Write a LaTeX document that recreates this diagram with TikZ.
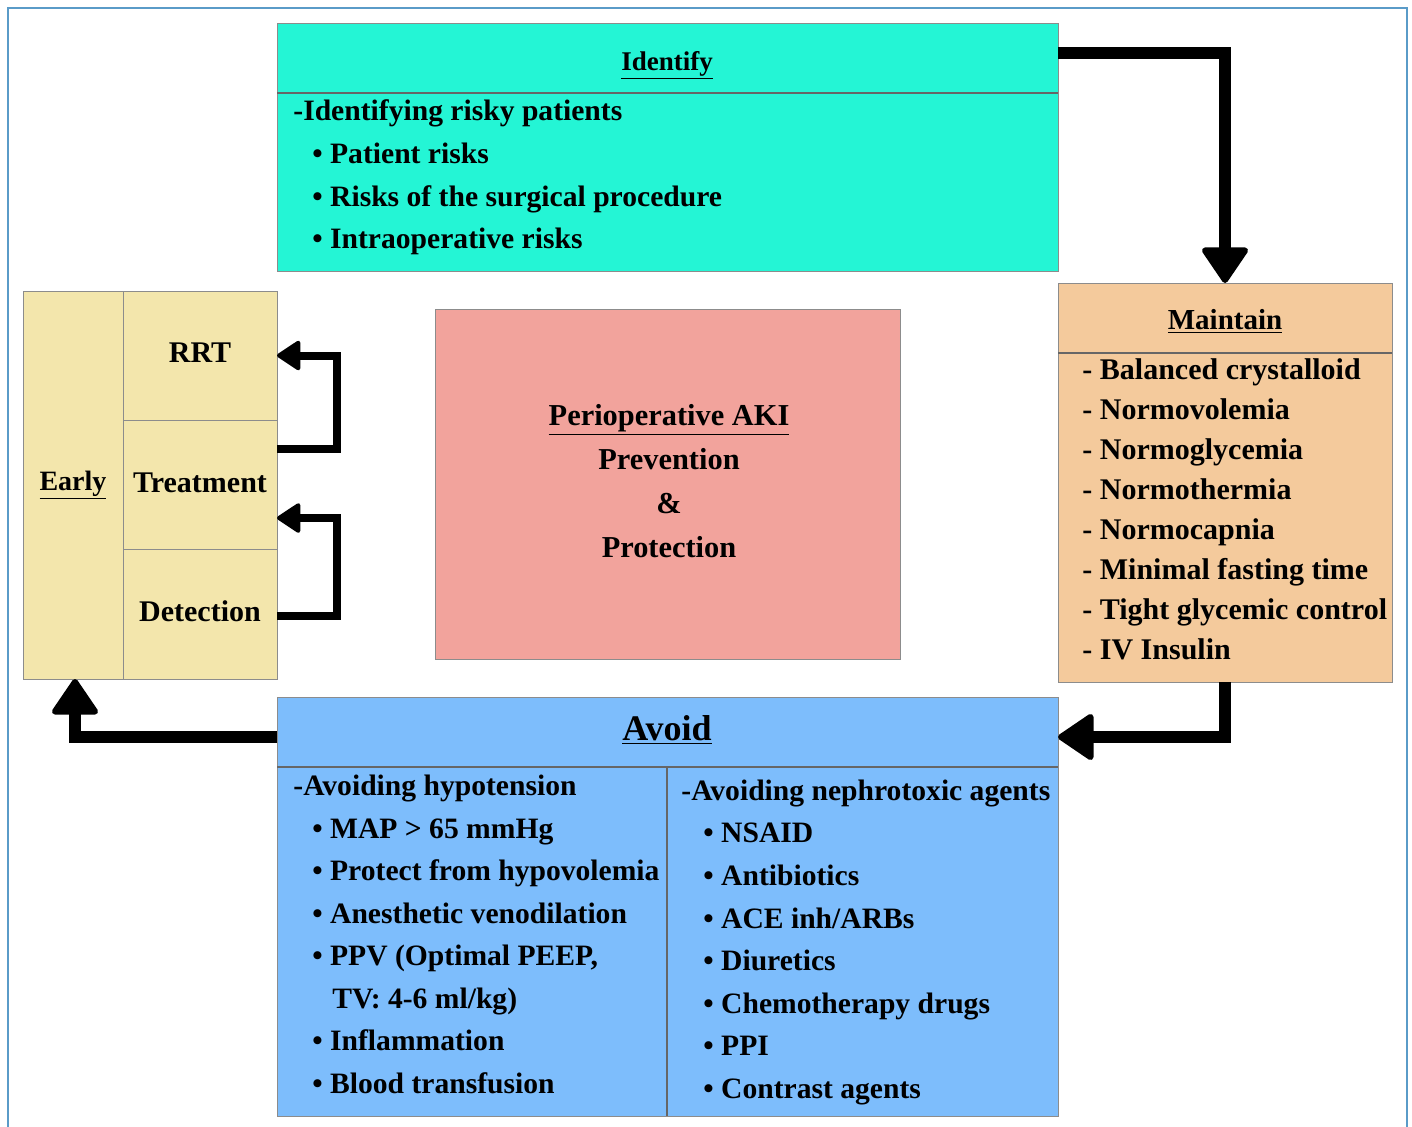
\documentclass[tikz,border=0pt]{standalone}
\usepackage{fontspec}
\setmainfont{Liberation Serif}
\usetikzlibrary{arrows.meta,fit}
\definecolor{framec}{RGB}{90,155,200}
\definecolor{cyanbox}{RGB}{36,245,213}
\definecolor{yelbox}{RGB}{243,230,172}
\definecolor{pinkbox}{RGB}{242,163,156}
\definecolor{orbox}{RGB}{244,202,156}
\definecolor{bluebox}{RGB}{125,189,252}
\begin{document}
\begin{tikzpicture}[x=0.5pt,y=-0.5pt,
  box/.style={draw=black!45, line width=0.5pt, inner sep=0pt, outer sep=0pt},
  divider/.style={draw=black!60, line width=0.6pt},
  txt/.style={anchor=base west, inner sep=0pt, font=\bfseries\fontsize{14.8}{18}\selectfont},
  ctxt/.style={anchor=base, inner sep=0pt, font=\bfseries\fontsize{15}{18}\selectfont},
  mtxt/.style={anchor=base west, inner sep=0pt, font=\bfseries\fontsize{15}{18}\selectfont},
  bigarrow/.style={line width=6pt, -{Triangle[width=25pt,length=19pt,line width=3pt,round]}},
  smallarrow/.style={line width=4pt, -{Triangle[width=16pt,length=12.5pt,line width=2pt,round]}}]
\useasboundingbox (0,0) rectangle (1412,1126);
% outer frame
\draw[framec, line width=1pt] (8,1130) -- (8,8) -- (1407,8) -- (1407,1130);

% Identify
\node[box, fill=cyanbox, fit={(277,23) (1058,271)}] (ident) {};
\draw[divider] (277,93) -- (1058,93);
\node[ctxt, font=\bfseries\fontsize{13.5}{16}\selectfont] (ititle) at (667,70) {\underline{Identify}};
\node[txt] (i0) at (293,120) {-Identifying risky patients};
\node[txt] (i1) at (312,163) {• Patient risks};
\node[txt] (i2) at (312,206) {• Risks of the surgical procedure};
\node[txt] (i3) at (312,248) {• Intraoperative risks};

% Early
\node[box, fill=yelbox, fit={(23,291) (123,679)}] (early) {};
\node[box, fill=yelbox, fit={(123,291) (277,420)}] (rrt) {};
\node[box, fill=yelbox, fit={(123,420) (277,549)}] (treat) {};
\node[box, fill=yelbox, fit={(123,549) (277,679)}] (det) {};
\node[ctxt, font=\bfseries\fontsize{14}{17}\selectfont] (tearly) at (73,490) {\underline{Early}};
\node[ctxt] (trrt) at (200,362) {RRT};
\node[ctxt] (ttreat) at (200,492) {Treatment};
\node[ctxt] (tdet) at (200,621) {Detection};

% Centre
\node[box, fill=pinkbox, fit={(435,309) (900,659)}] (aki) {};
\node[ctxt, font=\bfseries\fontsize{15.2}{19}\selectfont] (p1) at (669,425) {\underline{Perioperative AKI}};
\node[ctxt, font=\bfseries\fontsize{15.2}{19}\selectfont] (p2) at (669,469) {Prevention};
\node[ctxt, font=\bfseries\fontsize{15.2}{19}\selectfont] (p3) at (669,513) {\&};
\node[ctxt, font=\bfseries\fontsize{15.2}{19}\selectfont] (p4) at (669,557) {Protection};

% Maintain
\node[box, fill=orbox, fit={(1058,283) (1392,682)}] (maint) {};
\draw[divider] (1058,353) -- (1392,353);
\node[ctxt, font=\bfseries\fontsize{14.5}{17}\selectfont] (mtitle) at (1225,329) {\underline{Maintain}};
\node[mtxt] (m1) at (1082,379) {- Balanced crystalloid};
\node[mtxt] (m2) at (1082,419) {- Normovolemia};
\node[mtxt] (m3) at (1082,459) {- Normoglycemia};
\node[mtxt] (m4) at (1082,499) {- Normothermia};
\node[mtxt] (m5) at (1082,539) {- Normocapnia};
\node[mtxt] (m6) at (1082,579) {- Minimal fasting time};
\node[mtxt] (m7) at (1082,619) {- Tight glycemic control};
\node[mtxt] (m8) at (1082,659) {- IV Insulin};

% Avoid
\node[box, fill=bluebox, fit={(277,697) (1058,1116)}] (avoid) {};
\draw[divider] (277,767) -- (1058,767);
\draw[divider] (667,767) -- (667,1116);
\node[ctxt, font=\bfseries\fontsize{18}{21}\selectfont] (atitle) at (667,740) {\underline{Avoid}};
\node[txt] (a0) at (293,795) {-Avoiding hypotension};
\node[txt] (a1) at (312,838) {• MAP > 65 mmHg};
\node[txt] (a2) at (312,880) {• Protect from hypovolemia};
\node[txt] (a3) at (312,923) {• Anesthetic venodilation};
\node[txt] (a4) at (312,965) {• PPV (Optimal PEEP,};
\node[txt] (a5) at (332,1008) {TV: 4-6 ml/kg)};
\node[txt] (a6) at (312,1050) {• Inflammation};
\node[txt] (a7) at (312,1093) {• Blood transfusion};
\node[txt] (b0) at (681,800) {-Avoiding nephrotoxic agents};
\node[txt] (b1) at (703,842) {• NSAID};
\node[txt] (b2) at (703,885) {• Antibiotics};
\node[txt] (b3) at (703,928) {• ACE inh/ARBs};
\node[txt] (b4) at (703,970) {• Diuretics};
\node[txt] (b5) at (703,1013) {• Chemotherapy drugs};
\node[txt] (b6) at (703,1055) {• PPI};
\node[txt] (b7) at (703,1098) {• Contrast agents};

% connectors
\coordinate (e1) at (1225,53);
\coordinate (e2) at (1225,737);
\coordinate (e3) at (75,737);
\coordinate (e4) at (337,449);
\coordinate (e5) at (337,518);
\coordinate (e6) at (337,616);
\draw[bigarrow] (ident.east |- e1) -- (e1) -- (maint.north);
\draw[bigarrow] (maint.south) -- (e2) -- (avoid.east |- e2);
\draw[bigarrow] (avoid.west |- e3) -- (e3) -- (e3 |- early.south);
\draw[smallarrow] (treat.east |- e4) -- (e4) |- (rrt.east);
\draw[smallarrow] (det.east |- e6) -- (e6) -- (e5) -- (treat.east |- e5);
\end{tikzpicture}
\end{document}
